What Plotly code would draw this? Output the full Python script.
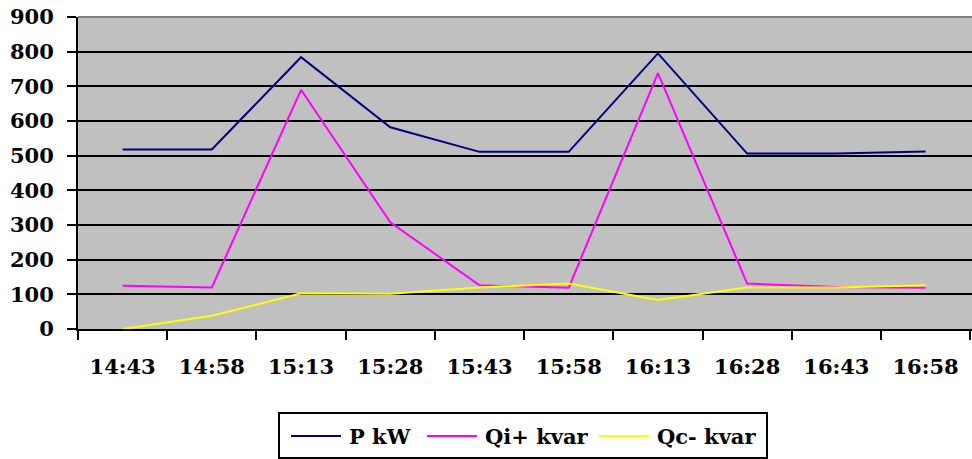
import plotly.graph_objects as go

# Sampling times (15-minute intervals)
times = ["14:43", "14:58", "15:13", "15:28", "15:43", "15:58", "16:13", "16:28", "16:43", "16:58"]

# Measured power values
p_kw = [518, 518, 784, 582, 511, 511, 795, 506, 506, 512]
qi_kvar = [125, 120, 690, 308, 126, 119, 738, 131, 121, 119]
qc_kvar = [0, 38, 103, 102, 120, 131, 84, 120, 120, 126]

y_ticks = [0, 100, 200, 300, 400, 500, 600, 700, 800, 900]

series = [
    ("P kW", p_kw, "#000080"),
    ("Qi+ kvar", qi_kvar, "#FF00FF"),
    ("Qc- kvar", qc_kvar, "#FFFF00"),
]

W, H = 972, 459
ML, MR, MT, MB = 78, 0, 17, 130
PW, PH = W - ML - MR, H - MT - MB

FONT = "DejaVu Serif"
FSIZE = 21

fig = go.Figure()
for name, vals, color in series:
    fig.add_trace(go.Scatter(
        x=times, y=vals, name=name, mode="lines",
        line=dict(color=color, width=2), showlegend=False,
    ))


def px_x(px):
    return (px - ML) / PW


def px_y(py):
    return (H - MB - py) / PH


shapes = [
    # gray top border of the plot area
    dict(type="line", xref="paper", yref="paper", x0=0, x1=1, y0=1, y1=1,
         line=dict(color="#808080", width=2)),
    # legend frame
    dict(type="rect", xref="paper", yref="paper",
         x0=px_x(279), x1=px_x(767), y0=px_y(413), y1=px_y(458),
         line=dict(color="black", width=2), fillcolor="white"),
]
annotations = []

legend_items = [(291, 347), (427, 483), (599, 655)]
for (lx, tx), (name, _, color) in zip(legend_items, series):
    ly = px_y(436)
    shapes.append(dict(type="line", xref="paper", yref="paper",
                       x0=px_x(lx), x1=px_x(lx + 50), y0=ly, y1=ly,
                       line=dict(color=color, width=2)))
    annotations.append(dict(xref="paper", yref="paper", x=px_x(tx), y=ly,
                            xanchor="left", yanchor="middle", showarrow=False,
                            text=f"<b>{name}</b>",
                            font=dict(family=FONT, size=FSIZE, color="black")))

fig.update_layout(
    width=W, height=H,
    margin=dict(l=ML, r=MR, t=MT, b=MB, pad=0),
    paper_bgcolor="white",
    plot_bgcolor="#C0C0C0",
    font=dict(family=FONT, size=FSIZE, color="black"),
    shapes=shapes,
    annotations=annotations,
    showlegend=False,
)

fig.update_xaxes(
    type="category",
    range=[-0.5, 9.52],
    tickson="boundaries",
    ticks="outside", ticklen=9, tickwidth=2, tickcolor="black",
    showline=True, linecolor="black", linewidth=2,
    showgrid=False, zeroline=False,
    tickfont=dict(family=FONT, size=FSIZE, color="black", weight="bold"),
    ticklabelstandoff=18,
)

fig.update_yaxes(
    range=[0, 900],
    tickvals=y_ticks,
    ticktext=[str(v) for v in y_ticks],
    ticks="outside", ticklen=9, tickwidth=2, tickcolor="black",
    showline=True, linecolor="black", linewidth=2,
    showgrid=True, gridcolor="black", gridwidth=2,
    zeroline=False,
    tickfont=dict(family=FONT, size=FSIZE, color="black", weight="bold"),
    ticklabelstandoff=9,
)

fig.write_html("out.html")
